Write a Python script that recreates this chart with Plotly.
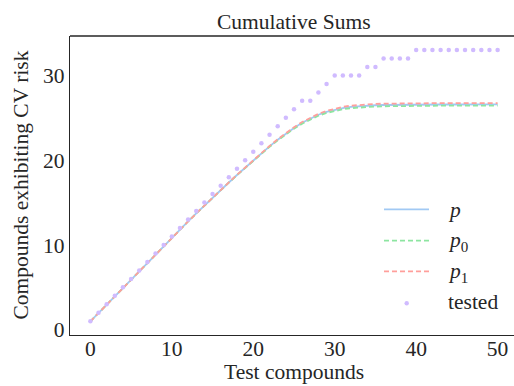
import plotly.graph_objects as go

# ---- data -------------------------------------------------------------
n_compounds = list(range(51))

p_cum = [0.98, 1.97, 2.96, 3.95, 4.94, 5.93, 6.92, 7.90, 8.88, 9.86,
         10.84, 11.81, 12.77, 13.72, 14.66, 15.58, 16.48, 17.37, 18.25, 19.12,
         19.98, 20.82, 21.63, 22.41, 23.14, 23.81, 24.41, 24.93, 25.36, 25.70,
         25.96, 26.15, 26.29, 26.38, 26.44, 26.48, 26.51, 26.53, 26.54, 26.55,
         26.56, 26.56, 26.57, 26.57, 26.57, 26.58, 26.58, 26.58, 26.58, 26.58,
         26.58]

p0_cum = [0.98, 1.97, 2.96, 3.95, 4.94, 5.93, 6.92, 7.90, 8.88, 9.86,
          10.84, 11.81, 12.77, 13.72, 14.66, 15.58, 16.47, 17.36, 18.23, 19.09,
          19.94, 20.77, 21.57, 22.34, 23.06, 23.72, 24.31, 24.82, 25.24, 25.58,
          25.83, 26.01, 26.14, 26.23, 26.29, 26.33, 26.36, 26.38, 26.40, 26.41,
          26.42, 26.43, 26.43, 26.44, 26.44, 26.44, 26.45, 26.45, 26.45, 26.45,
          26.45]

p1_cum = [0.98, 1.97, 2.96, 3.95, 4.94, 5.93, 6.92, 7.90, 8.88, 9.86,
          10.84, 11.81, 12.77, 13.72, 14.66, 15.58, 16.49, 17.38, 18.27, 19.15,
          20.01, 20.86, 21.68, 22.47, 23.21, 23.89, 24.50, 25.03, 25.47, 25.82,
          26.09, 26.29, 26.43, 26.53, 26.60, 26.64, 26.67, 26.69, 26.70, 26.71,
          26.72, 26.72, 26.73, 26.73, 26.73, 26.74, 26.74, 26.74, 26.74, 26.74,
          26.74]

tested_cum = [1, 2, 3, 4, 5, 6, 7, 8, 9, 10,
              11, 12, 13, 14, 15, 16, 17, 18, 19, 20,
              21, 22, 23, 24, 25, 26, 27, 27, 28, 29,
              30, 30, 30, 30, 31, 31, 32, 32, 32, 32,
              33, 33, 33, 33, 33, 33, 33, 33, 33, 33,
              33]

x_ticks = [0, 10, 20, 30, 40, 50]
y_ticks = [0, 10, 20, 30]

# ---- style ------------------------------------------------------------
FONT = "Liberation Serif"
FS = 21.5
INK = "#262626"
C_P, C_P0, C_P1, C_T = "#a1c9f4", "#8de5a1", "#ff9f9b", "#d0bbff"

W, H = 514, 386
L, R, T, B = 70, 0, 36, 51
PW, PH = W - L - R, H - T - B


def px(xpix):
    return (xpix - L) / PW


def py(ypix):
    return (H - B - ypix) / PH


fig = go.Figure()
fig.add_trace(go.Scatter(x=n_compounds, y=p_cum, mode="lines", name="p",
                         line=dict(color=C_P, width=1.8)))
fig.add_trace(go.Scatter(x=n_compounds, y=p0_cum, mode="lines", name="p0",
                         line=dict(color=C_P0, width=1.8, dash="5px,3px")))
fig.add_trace(go.Scatter(x=n_compounds, y=p1_cum, mode="lines", name="p1",
                         line=dict(color=C_P1, width=1.8, dash="5px,3px")))
fig.add_trace(go.Scatter(x=n_compounds, y=tested_cum, mode="markers", name="tested",
                         marker=dict(color=C_T, size=4.5, line=dict(width=0))))

axis_common = dict(showgrid=False, zeroline=False, ticks="",
                   tickfont=dict(family=FONT, size=FS, color=INK),
                   showline=True, linecolor=INK, linewidth=1.3)

fig.update_xaxes(range=[-2.5, -2.5 + PW / 8.145], tickvals=x_ticks,
                 ticklabelstandoff=-6, **axis_common)
fig.update_yaxes(range=[-0.62, 34.65], tickvals=y_ticks, **axis_common)

shapes = [
    # top frame line
    dict(type="line", xref="paper", yref="paper", x0=0, x1=1, y0=1, y1=1,
         line=dict(color=INK, width=1.3)),
]

# legend handles
leg_rows = [(209.3, C_P, "solid", "<i>p</i>"),
            (240.7, C_P0, "5px,3px", "<i>p</i><sub>0</sub>"),
            (271.3, C_P1, "5px,3px", "<i>p</i><sub>1</sub>")]
annotations = []
for ypix, col, dash, label in leg_rows:
    shapes.append(dict(type="line", xref="paper", yref="paper",
                       x0=px(384), x1=px(429), y0=py(ypix), y1=py(ypix),
                       line=dict(color=col, width=1.8, dash=dash)))
    annotations.append(dict(x=px(446), y=py(ypix + 1), xref="paper", yref="paper",
                            text=label, showarrow=False, xanchor="left", yanchor="middle",
                            font=dict(family=FONT, size=FS, color=INK)))
shapes.append(dict(type="circle", xref="paper", yref="paper",
                   xsizemode="pixel", ysizemode="pixel",
                   xanchor=px(406.7), yanchor=py(303.3),
                   x0=-2.2, x1=2.2, y0=-2.2, y1=2.2,
                   fillcolor=C_T, line=dict(width=0)))
annotations.append(dict(x=px(446), y=py(302), xref="paper", yref="paper",
                        text="tested", showarrow=False, xanchor="left", yanchor="middle",
                        font=dict(family=FONT, size=FS, color=INK)))

# titles
annotations.append(dict(x=px(294), y=py(22), xref="paper", yref="paper",
                        text="Cumulative Sums", showarrow=False,
                        xanchor="center", yanchor="middle",
                        font=dict(family=FONT, size=FS, color=INK)))
annotations.append(dict(x=px(294), y=py(372), xref="paper", yref="paper",
                        text="Test compounds", showarrow=False,
                        xanchor="center", yanchor="middle",
                        font=dict(family=FONT, size=FS, color=INK)))
annotations.append(dict(x=px(20), y=py(185.5), xref="paper", yref="paper",
                        text="Compounds exhibiting CV risk", showarrow=False,
                        textangle=-90, xanchor="center", yanchor="middle",
                        font=dict(family=FONT, size=FS, color=INK)))

fig.update_layout(width=W, height=H, margin=dict(l=L, r=R, t=T, b=B),
                  paper_bgcolor="white", plot_bgcolor="white",
                  showlegend=False, shapes=shapes, annotations=annotations)

fig.write_html("out.html")
